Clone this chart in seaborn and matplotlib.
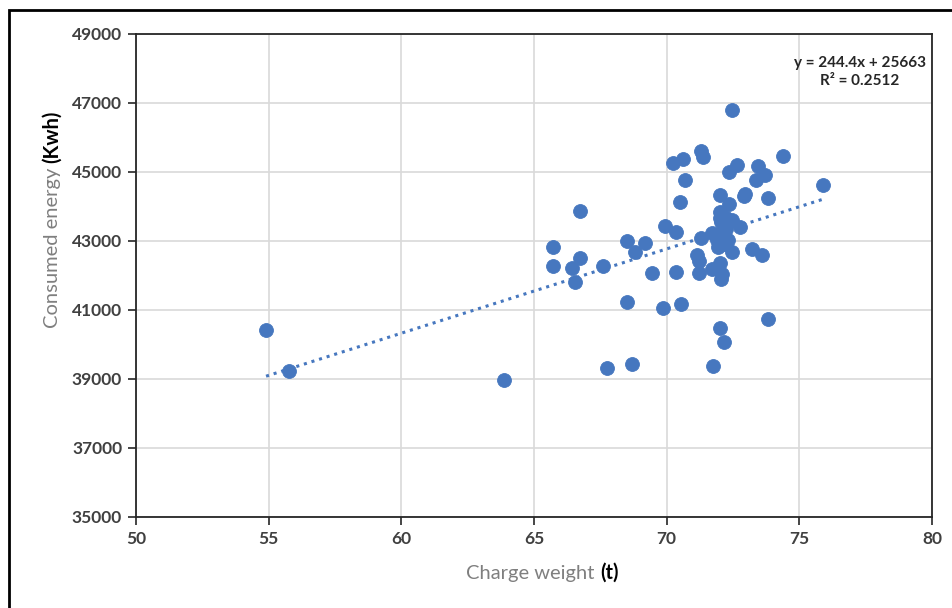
#!/usr/bin/env python3

import numpy as np
import pandas as pd
import seaborn as sns
import matplotlib.pyplot as plt
from matplotlib.patches import Rectangle


# charge weight (t) and consumed energy (kWh)
charge_weight = [
    54.9, 55.75, 63.85, 65.7, 65.7, 66.75, 66.75, 66.45, 66.55, 67.6,
    67.75, 68.5, 68.5, 68.8, 69.2, 69.45, 68.7, 69.85, 69.95, 70.35,
    70.35, 70.5, 70.55, 70.25, 70.6, 71.3, 71.35, 70.7, 72.45, 72.35,
    72.65, 72.0, 72.35, 72.9, 72.95, 73.45, 73.35, 73.7, 74.4, 73.8,
    75.9, 72.0, 72.0, 72.2, 72.45, 72.75, 71.3, 71.7, 71.9, 72.1,
    72.3, 71.95, 72.45, 73.2, 73.6, 71.15, 71.2, 71.2, 71.7, 72.0,
    72.1, 72.05, 73.8, 72.0, 72.15, 71.75, 72.05, 72.25, 72.15, 72.0,
]
consumed_energy = [
    40420, 39230, 38960, 42830, 42270, 43870, 42510, 42220, 41810, 42270,
    39330, 43000, 41230, 42680, 42950, 42070, 39420, 41050, 43420, 43250,
    42100, 44130, 41180, 45260, 45380, 45610, 45430, 44770, 46800, 45000,
    45200, 44340, 44070, 44300, 44360, 45160, 44760, 44920, 45460, 44250,
    44620, 43840, 43670, 43700, 43610, 43410, 43080, 43230, 43030, 43230,
    43030, 42830, 42680, 42780, 42590, 42600, 42430, 42060, 42180, 42360,
    42030, 41900, 40740, 40480, 40070, 39380, 43550, 43350, 42900, 43150,
]

# Excel linear trendline as printed on the chart
slope = 244.4
intercept = 25663
r_squared = 0.2512

x_ticks = [50, 55, 60, 65, 70, 75, 80]
y_ticks = [35000, 37000, 39000, 41000, 43000, 45000, 47000, 49000]

BLUE = "#4677BF"
DARK = "#404040"
GRAY = "#7F7F7F"

sns.set_theme(style="whitegrid")
plt.rcParams["font.family"] = ["Lato", "DejaVu Sans"]

df = pd.DataFrame({"weight": charge_weight, "energy": consumed_energy})

fig = plt.figure(figsize=(9.52, 6.08), dpi=100)
ax = fig.add_axes([0.1429, 0.1497, 0.8361, 0.7944])

sns.scatterplot(data=df, x="weight", y="energy", ax=ax, color=BLUE,
                s=100, edgecolor=BLUE, linewidth=0.6, zorder=3)

# trendline over the data range
xs = np.array([df["weight"].min(), df["weight"].max()])
trend = pd.DataFrame({"weight": xs, "energy": slope * xs + intercept})
sns.lineplot(data=trend, x="weight", y="energy", ax=ax, color=BLUE,
             linestyle=(0, (1, 1.6)), linewidth=2.2, zorder=2)

ax.set_xlim(50, 80)
ax.set_ylim(35000, 49000)
ax.set_xticks(x_ticks)
ax.set_yticks(y_ticks)
ax.grid(True, color="#D9D9D9", linewidth=1.2)
for s in ax.spines.values():
    s.set_visible(True)
    s.set_color("#262626")
    s.set_linewidth(1.3)
ax.tick_params(axis="both", direction="out", length=6, width=1.2,
               color="#262626", labelcolor=DARK, labelsize=12.5, pad=4,
               left=True, bottom=True)
for lbl in ax.get_xticklabels() + ax.get_yticklabels():
    lbl.set_fontweight("bold")

ax.set_xlabel("")
ax.set_ylabel("")

# axis titles with a grey name and a bold black unit
xl = fig.text(0.490, 0.047, "Charge weight ", color=GRAY, fontsize=14.5,
              ha="left", va="baseline")
ax.annotate("(t)", xy=(1, 0), xycoords=xl, va="bottom", ha="left",
            fontsize=14.5, fontweight="bold", color="black")

yl = fig.text(0.055, 0.46, "Consumed energy ", color=GRAY, fontsize=14.5,
              rotation=90, ha="center", va="bottom")
ax.annotate("(Kwh)", xy=(0.5, 1), xycoords=yl, va="bottom", ha="center",
            rotation=90, fontsize=14.5, fontweight="bold", color="black")

ax.text(0.992, 0.955, f"y = {slope}x + {intercept}\nR² = {r_squared}",
        transform=ax.transAxes, ha="right", va="top", fontsize=11,
        fontweight="bold", color="#262626", multialignment="center",
        linespacing=1.35, zorder=5)

# outer frame (right and bottom edges fall outside the image)
fig.patches.append(Rectangle((9 / 952, -0.05), 1.2, 1 - 10 / 608 + 0.05,
                             transform=fig.transFigure, fill=False,
                             edgecolor="black", linewidth=2.0))

fig.savefig("out.png", dpi=100)
